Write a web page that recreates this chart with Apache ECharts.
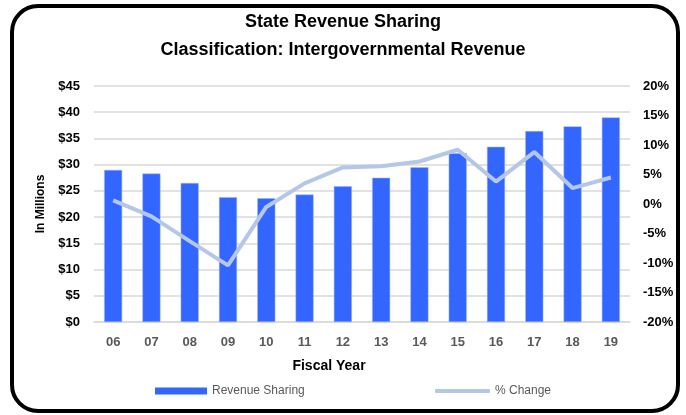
<!DOCTYPE html>
<html>
<head>
<meta charset="utf-8">
<script src="https://cdn.jsdelivr.net/npm/echarts@6/dist/echarts.min.js"></script>
<style>
html,body{margin:0;padding:0;background:#fff;}
#chart{width:686px;height:415px;}
</style>
</head>
<body>
<div id="chart"></div>
<script>
var years = ['06','07','08','09','10','11','12','13','14','15','16','17','18','19'];
var revenueSharing = [29.0, 28.3, 26.5, 23.8, 23.6, 24.3, 25.9, 27.5, 29.5, 32.2, 33.4, 36.4, 37.3, 39.0];
var pctChange = [0.6, -2.1, -6.3, -10.4, -0.5, 3.5, 6.2, 6.4, 7.2, 9.2, 3.8, 8.8, 2.7, 4.5];
var leftTicks = {min: 0, max: 45, interval: 5};
var rightTicks = {min: -20, max: 20, interval: 5};

var FF = "'Liberation Sans',Arial,sans-serif";
var chart = echarts.init(document.getElementById('chart'), null, {renderer: 'canvas'});
chart.setOption({
  animation: false,
  backgroundColor: '#fff',
  textStyle: {fontFamily: FF},
  title: {
    text: 'State Revenue Sharing\nClassification: Intergovernmental Revenue',
    left: 'center', top: 3,
    textStyle: {fontFamily: FF, fontSize: 18, fontWeight: 'bold', color: '#000', lineHeight: 28}
  },
  legend: [
    {data: ['Revenue Sharing'], left: 150, top: 380, itemWidth: 52, itemHeight: 7, itemGap: 5,
     icon: 'rect', itemStyle: {borderWidth: 0},
     textStyle: {fontFamily: FF, fontSize: 12, color: '#595959'}},
    {data: ['% Change'], left: 430, top: 380, itemWidth: 55, itemHeight: 4, itemGap: 5,
     icon: 'roundRect', itemStyle: {borderWidth: 0},
     textStyle: {fontFamily: FF, fontSize: 12, color: '#595959'}}
  ],
  grid: {left: 94, right: 56, top: 86, bottom: 93, containLabel: false},
  xAxis: {
    type: 'category', data: years,
    axisLine: {lineStyle: {color: '#d9d9d9', width: 1.5}},
    axisTick: {show: false},
    axisLabel: {fontFamily: FF, fontSize: 13, fontWeight: 'bold', color: '#595959', margin: 14}
  },
  yAxis: [
    {type: 'value', min: leftTicks.min, max: leftTicks.max, interval: leftTicks.interval,
     name: 'In Millions', nameLocation: 'middle', nameGap: 47, nameRotate: 90,
     nameTextStyle: {fontFamily: FF, fontSize: 12, fontWeight: 'bold', color: '#000'},
     axisLine: {show: false}, axisTick: {show: false},
     axisLabel: {fontFamily: FF, fontSize: 13, fontWeight: 'bold', color: '#000', margin: 14,
                 formatter: function(v){ return '$' + v; }},
     splitLine: {lineStyle: {color: '#d9d9d9', width: 1.5}}},
    {type: 'value', min: rightTicks.min, max: rightTicks.max, interval: rightTicks.interval,
     axisLine: {show: false}, axisTick: {show: false},
     axisLabel: {fontFamily: FF, fontSize: 13, fontWeight: 'bold', color: '#000', margin: 13,
                 formatter: function(v){ return v + '%'; }},
     splitLine: {show: false}}
  ],
  series: [
    {name: 'Revenue Sharing', type: 'bar', data: revenueSharing, barWidth: 18, yAxisIndex: 0,
     itemStyle: {color: '#3366ff', borderColor: '#9db4ff', borderWidth: 0.5}},
    {name: '% Change', type: 'line', data: pctChange, yAxisIndex: 1, symbol: 'none',
     lineStyle: {color: '#b4c7e7', width: 4}, itemStyle: {color: '#b4c7e7'}}
  ],
  graphic: [
    {type: 'text', x: 329, y: 359,
     style: {text: 'Fiscal Year', fontFamily: FF, fontSize: 14, fontWeight: 'bold', fill: '#000', textAlign: 'center'}},
    {type: 'rect', shape: {x: 12, y: 6, width: 666, height: 405, r: 26},
     style: {fill: 'none', stroke: '#000', lineWidth: 4}, z: 100}
  ]
});
</script>
</body>
</html>
